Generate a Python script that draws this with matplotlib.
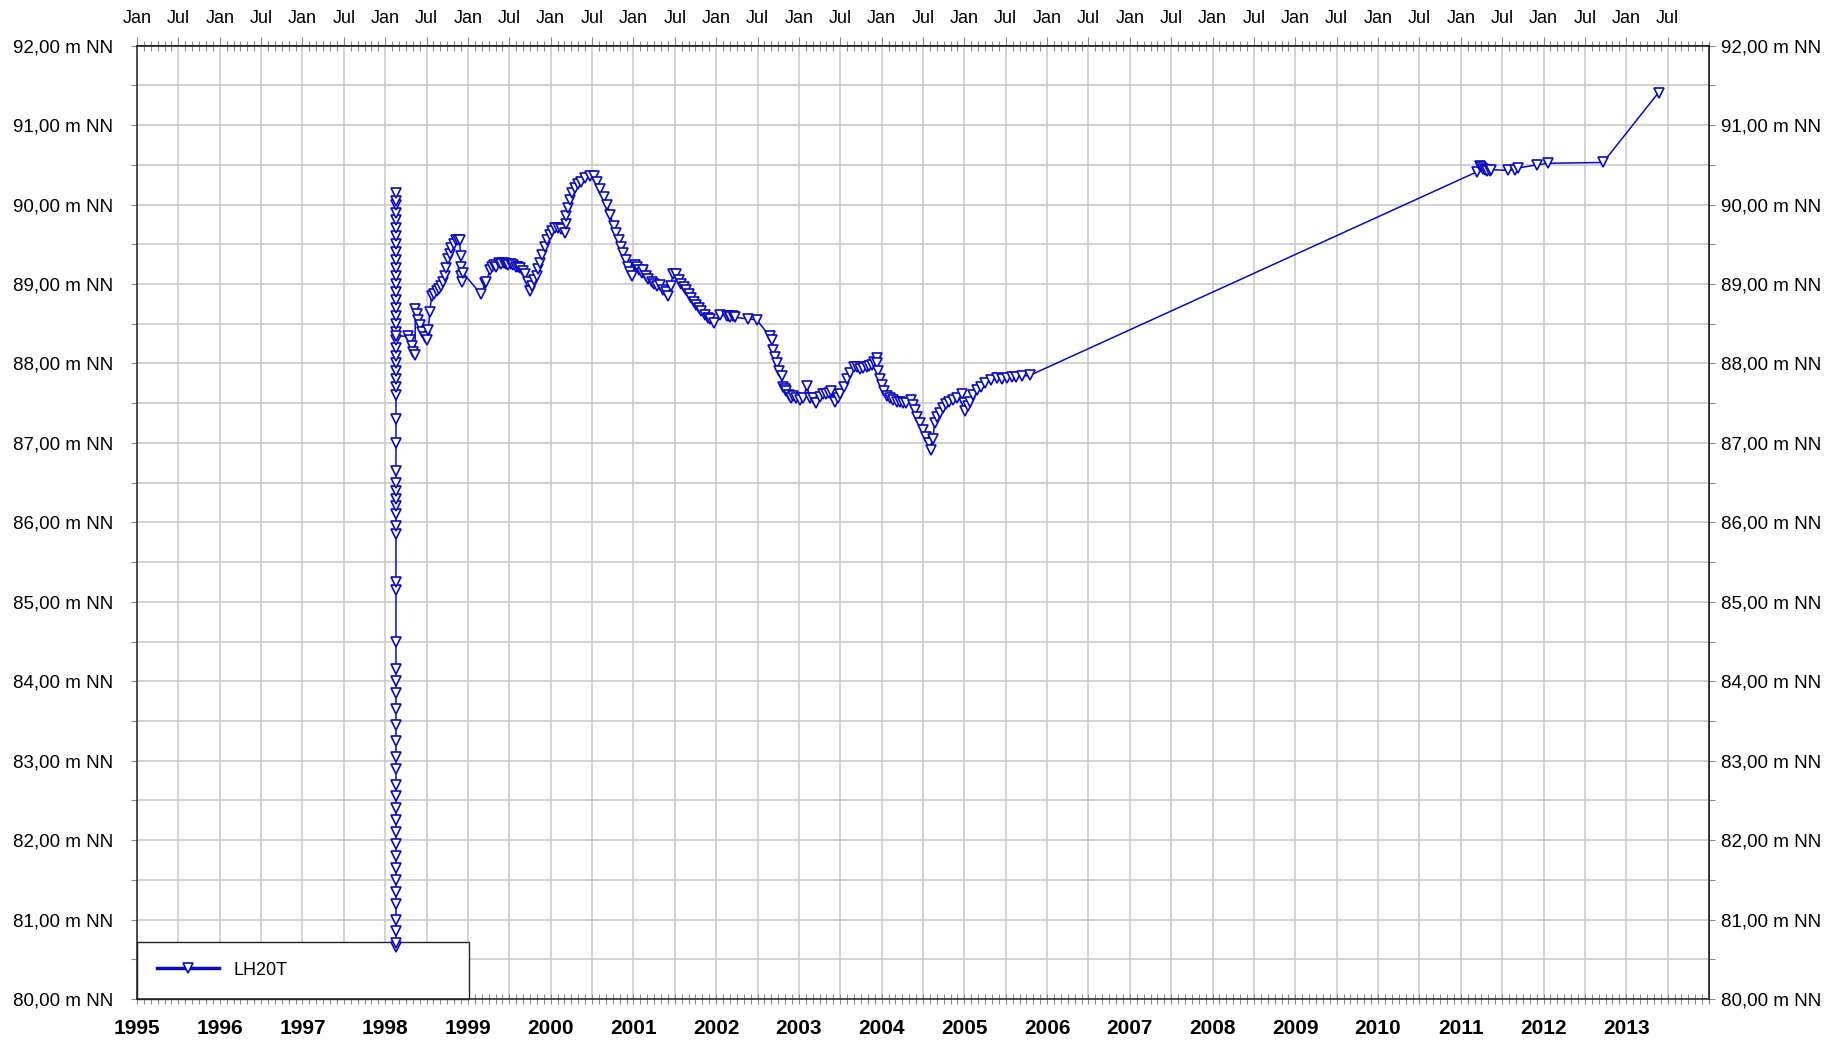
import matplotlib
matplotlib.use("Agg")
import matplotlib.pyplot as plt
import numpy as np
from matplotlib.ticker import FixedLocator, FuncFormatter

plt.rcParams["font.family"] = ["Liberation Sans", "DejaVu Sans"]

# vertical run of readings in early 1998 (recovery after pumping)
spike_date = 1998.13
spike_values = [80.65, 80.7, 80.85, 81.0, 81.2, 81.35, 81.5, 81.65, 81.8, 81.95,
                82.1, 82.25, 82.4, 82.55, 82.7, 82.9, 83.05, 83.25, 83.45, 83.65,
                83.85, 84.0, 84.15, 84.5, 85.15, 85.25, 85.85, 85.95, 86.1, 86.2,
                86.3, 86.4, 86.5, 86.65, 87.0, 87.3, 87.6, 87.7, 87.8, 87.9,
                88.0, 88.1, 88.2, 88.3, 88.4, 88.5, 88.6, 88.7, 88.8, 88.9,
                89.0, 89.1, 89.2, 89.3, 89.4, 89.5, 89.6, 89.7, 89.8, 89.9,
                90.0, 90.05, 90.15, 88.35]

# decimal year, water level in m NN
dates = [
    1998.28, 1998.30, 1998.32, 1998.34, 1998.36, 1998.365, 1998.38, 1998.40, 1998.42, 1998.45,
    1998.48, 1998.50, 1998.52, 1998.54, 1998.56, 1998.59, 1998.62, 1998.65, 1998.68, 1998.70,
    1998.72, 1998.74, 1998.76, 1998.78, 1998.80, 1998.83, 1998.86, 1998.88, 1998.90, 1998.91,
    1998.915, 1998.92, 1998.925, 1998.94, 1999.16, 1999.21, 1999.22, 1999.27, 1999.29, 1999.31,
    1999.34, 1999.37, 1999.40, 1999.43, 1999.46, 1999.49, 1999.52, 1999.55, 1999.58, 1999.61,
    1999.63, 1999.66, 1999.69, 1999.72, 1999.75, 1999.77, 1999.80, 1999.83, 1999.85, 1999.87,
    1999.90, 1999.93, 1999.96, 1999.99, 2000.02, 2000.05, 2000.09, 2000.13, 2000.17, 2000.18,
    2000.19, 2000.21, 2000.23, 2000.26, 2000.29, 2000.33, 2000.37, 2000.42, 2000.47, 2000.52,
    2000.56, 2000.60, 2000.64, 2000.68, 2000.72, 2000.76, 2000.79, 2000.82, 2000.85, 2000.88,
    2000.91, 2000.94, 2000.96, 2000.98, 2001.02, 2001.04, 2001.07, 2001.10, 2001.12, 2001.15,
    2001.18, 2001.22, 2001.25, 2001.28, 2001.32, 2001.36, 2001.39, 2001.42, 2001.45, 2001.48,
    2001.52, 2001.55, 2001.58, 2001.61, 2001.64, 2001.67, 2001.70, 2001.73, 2001.76, 2001.79,
    2001.82, 2001.86, 2001.90, 2001.93, 2001.97, 2002.05, 2002.13, 2002.15, 2002.17, 2002.20,
    2002.23, 2002.39, 2002.49, 2002.65, 2002.67, 2002.69, 2002.71, 2002.73, 2002.76, 2002.79,
    2002.81, 2002.83, 2002.85, 2002.88, 2002.91, 2002.93, 2002.96, 2003.01, 2003.05, 2003.10,
    2003.13, 2003.17, 2003.21, 2003.25, 2003.29, 2003.33, 2003.36, 2003.39, 2003.44, 2003.47,
    2003.50, 2003.54, 2003.58, 2003.62, 2003.66, 2003.70, 2003.74, 2003.78, 2003.82, 2003.85,
    2003.88, 2003.91, 2003.94, 2003.95, 2003.96, 2003.98, 2004.00, 2004.03, 2004.06, 2004.10,
    2004.14, 2004.18, 2004.22, 2004.26, 2004.30, 2004.36, 2004.38, 2004.40, 2004.43, 2004.46,
    2004.50, 2004.54, 2004.57, 2004.60, 2004.62, 2004.64, 2004.67, 2004.70, 2004.74, 2004.78,
    2004.81, 2004.86, 2004.91, 2004.97, 2004.99, 2005.01, 2005.04, 2005.07, 2005.11, 2005.15,
    2005.20, 2005.25, 2005.32, 2005.39, 2005.45, 2005.51, 2005.57, 2005.63, 2005.70, 2005.79,
    2011.19, 2011.23, 2011.25, 2011.27, 2011.29, 2011.32, 2011.35, 2011.37, 2011.57, 2011.65,
    2011.69, 2011.92, 2012.06, 2012.72, 2013.39,
]
levels = [
    88.34, 88.30, 88.22, 88.15, 88.11, 88.68, 88.62, 88.55, 88.48, 88.40,
    88.33, 88.30, 88.42, 88.65, 88.85, 88.88, 88.91, 88.94, 88.97, 89.03,
    89.10, 89.20, 89.31, 89.38, 89.45, 89.50, 89.56, 89.56, 89.56, 89.35,
    89.22, 89.10, 89.03, 89.14, 88.87, 89.01, 89.03, 89.18, 89.22, 89.24,
    89.22, 89.26, 89.25, 89.27, 89.25, 89.24, 89.25, 89.24, 89.22, 89.21,
    89.20, 89.16, 89.12, 89.03, 88.91, 88.98, 89.05, 89.10, 89.19, 89.27,
    89.37, 89.47, 89.55, 89.62, 89.67, 89.71, 89.70, 89.69, 89.64, 89.75,
    89.85, 89.96, 90.06, 90.14, 90.21, 90.26, 90.29, 90.33, 90.36, 90.36,
    90.28, 90.19, 90.10, 90.00, 89.87, 89.73, 89.64, 89.56, 89.47, 89.39,
    89.30, 89.22, 89.15, 89.10, 89.24, 89.22, 89.18, 89.14, 89.18, 89.10,
    89.06, 89.03, 89.00, 88.97, 88.99, 88.93, 88.90, 88.85, 88.98, 89.12,
    89.12, 89.05, 89.00, 88.96, 88.93, 88.87, 88.82, 88.78, 88.74, 88.70,
    88.66, 88.61, 88.57, 88.56, 88.51, 88.61, 88.60, 88.60, 88.59, 88.60,
    88.58, 88.56, 88.55, 88.34, 88.30, 88.17, 88.08, 88.01, 87.90, 87.84,
    87.71, 87.68, 87.65, 87.60, 87.56, 87.59, 87.56, 87.54, 87.56, 87.72,
    87.56, 87.57, 87.50, 87.58, 87.61, 87.62, 87.63, 87.65, 87.52, 87.57,
    87.61, 87.70, 87.80, 87.88, 87.96, 87.95, 87.93, 87.94, 87.96, 87.97,
    87.98, 88.02, 88.07, 88.00, 87.90, 87.80, 87.73, 87.65, 87.59, 87.56,
    87.54, 87.52, 87.51, 87.50, 87.50, 87.54, 87.48, 87.42, 87.33, 87.25,
    87.16, 87.08, 87.00, 86.91, 87.05, 87.25, 87.32, 87.38, 87.44, 87.49,
    87.52, 87.54, 87.56, 87.61, 87.50, 87.40, 87.46, 87.52, 87.60, 87.67,
    87.71, 87.75, 87.79, 87.82, 87.81, 87.82, 87.83, 87.83, 87.84, 87.85,
    90.41, 90.49, 90.47, 90.45, 90.44, 90.42, 90.42, 90.44, 90.43, 90.44,
    90.46, 90.50, 90.52, 90.53, 91.41,
]
series_name = "LH20T"

x = [spike_date] * len(spike_values) + dates
y = spike_values + levels

blue = "#0a0ac0"
tick_gray = "#8a8a8a"

fig = plt.figure(figsize=(18.38, 10.42), dpi=100)
ax = fig.add_axes([137 / 1838, 43 / 1042, 1572 / 1838, 953.3 / 1042])

ax.plot(x, y, color=blue, lw=1.1, marker="v", ms=6.5, mfc="white",
        mec=blue, mew=1.2, label=series_name, zorder=3)

ax.set_xlim(1995, 2014)
ax.set_ylim(80, 92)

half_years = np.arange(1995, 2014.01, 0.5)
months = np.arange(1995, 2014.001, 1 / 12)

ax.xaxis.set_major_locator(FixedLocator(half_years))
ax.xaxis.set_minor_locator(FixedLocator(months))
ax.xaxis.set_major_formatter(FuncFormatter(
    lambda v, p: f"{int(round(v))}" if abs(v - round(v)) < 1e-6 and v < 2013.9 else ""))

ax.yaxis.set_major_locator(FixedLocator(np.arange(80, 92.01, 0.5)))


def level_fmt(v, p):
    if abs(v - round(v)) < 1e-6:
        return f"{v:.2f}".replace(".", ",") + " m NN"
    return ""


ax.yaxis.set_major_formatter(FuncFormatter(level_fmt))

ax.grid(True, which="major", color="#c8c8c8", lw=1.1)
ax.tick_params(axis="x", which="both", direction="inout", length=7, width=0.8,
               color=tick_gray, labelsize=15, pad=11)
ax.tick_params(axis="y", which="major", direction="out", length=4, width=0.8,
               color=tick_gray, labelsize=13.5, pad=13)
for lab in ax.get_xticklabels():
    lab.set_fontweight("bold")

for s in ax.spines.values():
    s.set_color("#222222")
    s.set_linewidth(1.1)

# top axis with Jan / Jul labels
top = ax.secondary_xaxis("top")
top_ticks = np.arange(1995, 2013.51, 0.5)
top.xaxis.set_major_locator(FixedLocator(top_ticks))
top.xaxis.set_minor_locator(FixedLocator(months))
top.xaxis.set_major_formatter(FuncFormatter(
    lambda v, p: "Jan" if abs(v - round(v)) < 1e-6 else "Jul"))
top.tick_params(axis="x", which="major", direction="out", length=6.5, width=0.8,
                color=tick_gray, labelsize=13, pad=7)
top.tick_params(axis="x", which="minor", direction="inout", length=7, width=0.8,
                color=tick_gray)
top.spines["top"].set_color("#222222")
top.spines["top"].set_linewidth(1.1)

# right axis with the same level labels
right = ax.secondary_yaxis("right")
right.yaxis.set_major_locator(FixedLocator(np.arange(80, 92.01, 0.5)))
right.yaxis.set_major_formatter(FuncFormatter(level_fmt))
right.tick_params(axis="y", direction="out", length=4.5, width=0.8,
                  color=tick_gray, labelsize=13.5, pad=4)
right.spines["right"].set_color("#222222")
right.spines["right"].set_linewidth(1.1)

leg = ax.legend(loc="lower left", bbox_to_anchor=(0, 0, 0.2112, 0.0587),
                mode="expand", borderaxespad=0, fancybox=False, framealpha=1,
                edgecolor="#222222", fontsize=13, borderpad=1.12,
                handlelength=3.4, handletextpad=0.85)
leg.get_frame().set_linewidth(1.0)
leg.get_lines()[0].set_linewidth(2.5)
leg.set_zorder(2)

fig.savefig("out.png", dpi=100)
